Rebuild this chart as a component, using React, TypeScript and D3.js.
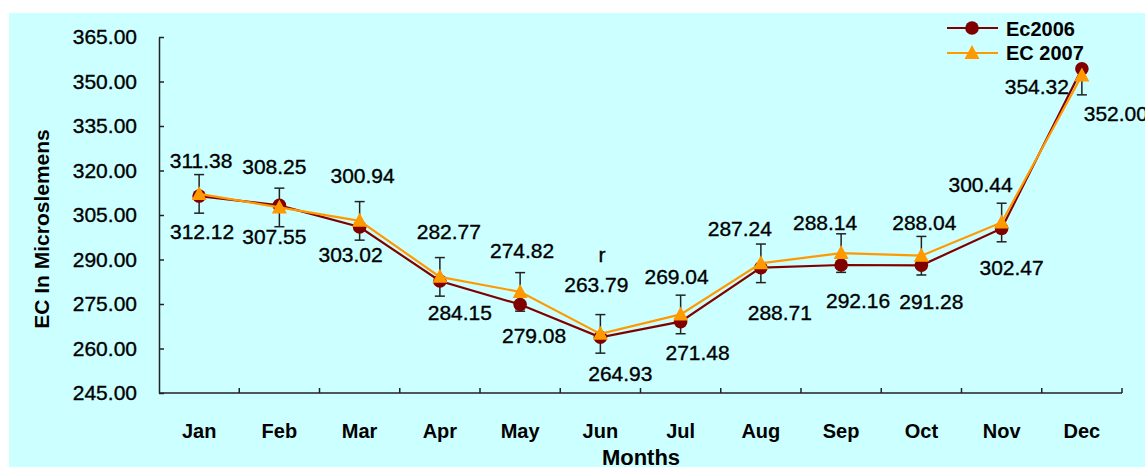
import React, { useEffect, useRef } from "react";
import * as d3 from "d3";

const months = ["Jan", "Feb", "Mar", "Apr", "May", "Jun", "Jul", "Aug", "Sep", "Oct", "Nov", "Dec"];
const ec2006 = [311.38, 308.25, 300.94, 282.77, 274.82, 263.79, 269.04, 287.24, 288.14, 288.04, 300.44, 354.32];
const ec2007 = [312.12, 307.55, 303.02, 284.15, 279.08, 264.93, 271.48, 288.71, 292.16, 291.28, 302.47, 352.0];
// error bars on the 2007 series (plus side missing on Dec in the original)
const errPlus2007 = [6.5, 6.5, 6.5, 6.5, 6.5, 6.5, 6.5, 6.5, 6.5, 6.5, 6.5, 0];
const errMinus2007 = [6.5, 6.5, 6.5, 6.5, 6.5, 6.5, 6.5, 6.5, 6.5, 6.5, 6.5, 6.5];
const yTicks = [245, 260, 275, 290, 305, 320, 335, 350, 365];

// label placement relative to point (center of text)
const lab06dx = [2, -5, 3, 9, 2, -4, -4, -21, -16, 3, -21, -45];
const lab06dy = [-36, -39, -52, -49, -54, -53, -45, -39, -43, -43, -44, 18];
const lab07dx = [3, -5, -9, 20, 14, 20, 17, 19, 17, 10, 10, 34];
const lab07dy = [38, 29, 34, 36, 44, 40, 38, 49, 47, 46, 45, 38];

const W = 1145;
const H = 467;
const FONT = "'Liberation Sans', Arial, sans-serif";
const C06 = "#800000";
const C07 = "#FF9900";

const tri = "M0,-8L7.5,6L-7.5,6Z";

const App = () => {
  const svgRef = useRef<SVGSVGElement>(null);

  useEffect(() => {
    const svg = d3.select(svgRef.current);
    svg.selectAll("*").remove();

    const left = 159, right = 1122, top = 37, bottom = 393;

    const x = d3.scaleBand().domain(months).range([left, right]).padding(0);
    const cx = (m: string) => (x(m) as number) + x.bandwidth() / 2;
    const y = d3.scaleLinear().domain([245, 365]).range([bottom, top]);

    svg.append("rect")
      .attr("x", 9).attr("y", 13)
      .attr("width", W - 9).attr("height", H - 13)
      .attr("fill", "#CCFFFF");

    // y axis
    const yAxis = svg.append("g")
      .attr("transform", `translate(${left},0)`)
      .call(d3.axisLeft(y).tickValues(yTicks).tickSizeInner(-5).tickSizeOuter(0).tickPadding(22).tickFormat(d3.format(".2f")));
    yAxis.select(".domain").attr("stroke", "#222").attr("stroke-width", 1.5);
    yAxis.selectAll(".tick line").attr("stroke", "#222").attr("stroke-width", 1.5);
    yAxis.selectAll(".tick text")
      .attr("font-family", FONT).attr("font-size", 21).attr("fill", "#000")
      .attr("stroke", "#000").attr("stroke-width", 0.35);

    // x axis with ticks at category boundaries
    const xg = svg.append("g");
    xg.append("line")
      .attr("x1", left).attr("x2", right)
      .attr("y1", bottom).attr("y2", bottom)
      .attr("stroke", "#222").attr("stroke-width", 1.5);
    const bounds = months.map(m => x(m) as number).concat([right]);
    xg.selectAll("line.tk").data(bounds.slice(1)).join("line")
      .attr("class", "tk")
      .attr("x1", d => d).attr("x2", d => d)
      .attr("y1", bottom).attr("y2", bottom - 5)
      .attr("stroke", "#222").attr("stroke-width", 1.5);
    xg.selectAll("text").data(months).join("text")
      .attr("x", d => cx(d)).attr("y", 438)
      .attr("text-anchor", "middle")
      .attr("font-family", FONT).attr("font-size", 20).attr("font-weight", "bold")
      .text(d => d);

    svg.append("text")
      .attr("x", 641).attr("y", 465)
      .attr("text-anchor", "middle")
      .attr("font-family", FONT).attr("font-size", 22).attr("font-weight", "bold")
      .text("Months");

    svg.append("text")
      .attr("transform", "translate(49,229) rotate(-90)")
      .attr("text-anchor", "middle")
      .attr("font-family", FONT).attr("font-size", 21).attr("font-weight", "bold")
      .text("EC In Microslemens");

    // error bars
    const eb = svg.append("g").attr("stroke", "#222").attr("stroke-width", 1.5);
    months.forEach((m, i) => {
      const px = cx(m);
      const yt = y(ec2007[i] + errPlus2007[i]);
      const yb = y(ec2007[i] - errMinus2007[i]);
      eb.append("line").attr("x1", px).attr("x2", px).attr("y1", yt).attr("y2", yb);
      if (errPlus2007[i] > 0) eb.append("line").attr("x1", px - 5).attr("x2", px + 5).attr("y1", yt).attr("y2", yt);
      eb.append("line").attr("x1", px - 5).attr("x2", px + 5).attr("y1", yb).attr("y2", yb);
    });

    const line = d3.line<number>()
      .x((d, i) => cx(months[i]))
      .y(d => y(d));

    svg.append("path").datum(ec2006)
      .attr("fill", "none").attr("stroke", C06).attr("stroke-width", 2.2).attr("d", line);
    svg.selectAll("circle.p06").data(ec2006).join("circle")
      .attr("class", "p06")
      .attr("cx", (d, i) => cx(months[i])).attr("cy", d => y(d))
      .attr("r", 6.8).attr("fill", C06);

    svg.append("path").datum(ec2007)
      .attr("fill", "none").attr("stroke", C07).attr("stroke-width", 2.2).attr("d", line);
    svg.selectAll("path.p07").data(ec2007).join("path")
      .attr("class", "p07")
      .attr("d", tri)
      .attr("transform", (d, i) => `translate(${cx(months[i])},${y(d)})`)
      .attr("fill", C07);

    // value labels
    const lg = svg.append("g")
      .attr("font-family", FONT).attr("font-size", 21).attr("text-anchor", "middle")
      .attr("fill", "#000").attr("stroke", "#000").attr("stroke-width", 0.35);
    lg.selectAll("text.l06").data(ec2006).join("text")
      .attr("class", "l06")
      .attr("x", (d, i) => cx(months[i]) + lab06dx[i])
      .attr("y", (d, i) => y(d) + lab06dy[i] + 7.5)
      .text(d => d.toFixed(2));
    lg.selectAll("text.l07").data(ec2007).join("text")
      .attr("class", "l07")
      .attr("x", (d, i) => cx(months[i]) + lab07dx[i])
      .attr("y", (d, i) => y(d) + lab07dy[i] + 7.5)
      .text(d => d.toFixed(2));
    // stray character present in the original
    lg.append("text").attr("x", 602).attr("y", 262).text("r");

    // legend
    const leg = svg.append("g").attr("font-family", FONT).attr("font-size", 20).attr("font-weight", "bold");
    const l1 = leg.append("g").attr("transform", "translate(947,28)");
    l1.append("line").attr("x1", 0).attr("x2", 51).attr("stroke", C06).attr("stroke-width", 2.2);
    l1.append("circle").attr("cx", 25).attr("r", 6.8).attr("fill", C06);
    l1.append("text").attr("x", 59).attr("y", 8).text("Ec2006");
    const l2 = leg.append("g").attr("transform", "translate(947,53)");
    l2.append("line").attr("x1", 0).attr("x2", 51).attr("stroke", C07).attr("stroke-width", 2.2);
    l2.append("path").attr("d", tri).attr("transform", "translate(25,0)").attr("fill", C07);
    l2.append("text").attr("x", 59).attr("y", 7).text("EC 2007");
  }, []);

  return (
    <svg
      ref={svgRef}
      width={W}
      height={H}
      style={{ position: "absolute", left: 0, top: 0, background: "#fff" }}
    />
  );
};

export default App;
